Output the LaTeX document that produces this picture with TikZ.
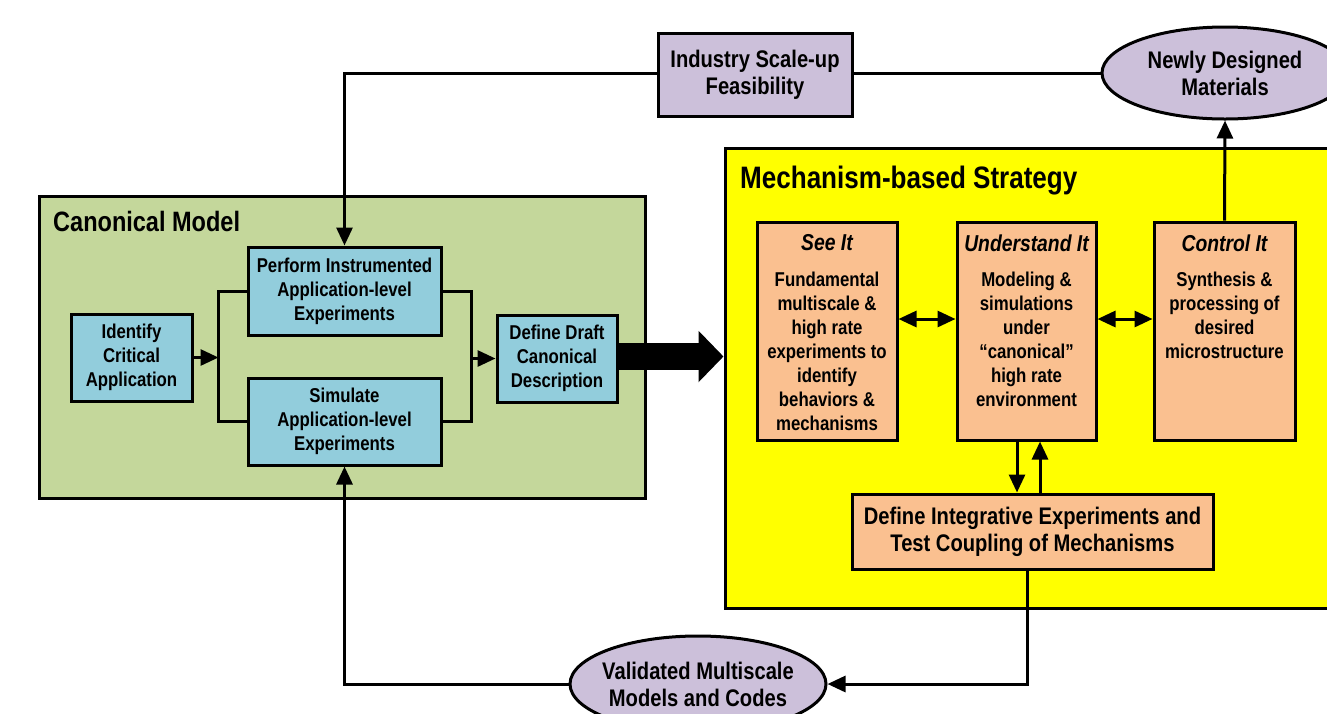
\documentclass[tikz,border=0pt]{standalone}
\usepackage{fontspec}
\setmainfont[FakeStretch=0.84]{Liberation Sans}
\usepackage{tikz}
\usetikzlibrary{shapes.geometric, arrows.meta, positioning}
\definecolor{canonGreen}{HTML}{C4D79B}
\definecolor{stepBlue}{HTML}{92CDDC}
\definecolor{mechYellow}{HTML}{FFFF00}
\definecolor{mechOrange}{HTML}{FAC090}
\definecolor{outLilac}{HTML}{CCC0DA}
\tikzset{
>={Triangle[length=18pt,width=16pt]}, % filled arrow heads like the slide
every node/.style={font=\bfseries\fontsize{20}{24}\selectfont, align=center, inner sep=0pt},
bigtext/.style={font=\bfseries\fontsize{24}{27}\selectfont}, % the larger labels
frame/.style={draw, line width=3pt}, % the two big areas
stepbox/.style={draw, line width=3pt, fill=stepBlue}, % canonical model steps
mechbox/.style={draw, line width=3pt, fill=mechOrange, minimum width=140pt, minimum height=218pt},
lilacbox/.style={draw, line width=3pt, fill=outLilac, bigtext},
outcome/.style={ellipse, draw, line width=3pt, fill=outLilac, bigtext, inner xsep=-12pt},
areatitle/.style={font=\bfseries\fontsize{28}{34}\selectfont, anchor=base west},
mechtitle/.style={font=\bfseries\itshape\fontsize{23}{28}\selectfont, anchor=north},
link/.style={line width=3pt},
}
\begin{document}
\begin{tikzpicture}[x=1pt, y=-1pt]
    \useasboundingbox (0,0) rectangle (1327,713);
    \clip (0,0) rectangle (1327,713);

    % areas
    \node[frame, fill=canonGreen, minimum width=606pt, minimum height=302pt] (canon) at (342,347) {};
    \node[areatitle] (canonT) at (53,231) {Canonical Model};
    \node[frame, fill=mechYellow, minimum width=640pt, minimum height=460pt] (mech) at (1045,378) {};
    \node[areatitle, font=\bfseries\fontsize{31}{36}\selectfont] (mechT) at (740,188) {Mechanism-based Strategy};

    % canonical model
    \node[stepbox, minimum width=121pt, minimum height=87pt] (ident) at (131.5,357.5) {Identify\\Critical\\Application};
    \node[stepbox, minimum width=193pt, minimum height=88pt] (perf) at (344.5,291) {Perform Instrumented\\Application-level\\Experiments};
    \node[stepbox, minimum width=193pt, minimum height=87pt] (sim) at (344.5,421.5) {Simulate\\Application-level\\Experiments};
    \node[stepbox, minimum width=120pt, minimum height=87pt] (draft) at (557,358.5) {Define Draft\\Canonical\\Description};
    \coordinate (brL) at ([xshift=-28pt]perf.west);
    \coordinate (brR) at ([xshift=29pt]perf.east);

    % mechanism-based strategy
    \node[mechbox] (see) at (827,331) {};
    \node[mechbox, minimum width=139pt] (und) at (1026.5,331) {};
    \node[mechbox, minimum width=141pt] (ctrl) at (1224.5,331) {};
    \node[mechtitle] (seeT) at ([yshift=-14pt]see.north) {See It};
    \node[mechtitle] (undT) at ([yshift=-14pt]und.north) {Understand It};
    \node[mechtitle] (ctrlT) at ([yshift=-14pt]ctrl.north) {Control It};
    \node[anchor=north] (seeB) at ([yshift=-51pt]see.north) {Fundamental\\multiscale \&\\high rate\\experiments to\\identify\\behaviors \&\\mechanisms};
    \node[anchor=north] (undB) at ([yshift=-51pt]und.north) {Modeling \&\\simulations\\under\\``canonical''\\high rate\\environment};
    \node[anchor=north] (ctrlB) at ([yshift=-51pt]ctrl.north) {Synthesis \&\\processing of\\desired\\microstructure};
    \node[mechbox, bigtext, minimum width=361pt, minimum height=75pt] (integ) at (1032.5,531.5) {Define Integrative Experiments and\\Test Coupling of Mechanisms};

    % outcomes
    \node[lilacbox, minimum width=194pt, minimum height=83pt] (scale) at (755,74.5) {Industry Scale-up\\Feasibility};
    \node[outcome, minimum width=246pt, minimum height=92pt] (newmat) at (1225,73) {Newly Designed\\Materials};
    \node[outcome, minimum width=256pt, minimum height=96pt] (valid) at (698,684) {Validated Multiscale\\Models and Codes};

    % connectors
    \draw[link] (perf.west) -- (brL) |- (sim.west);
    \draw[link] (perf.east) -- (brR) |- (sim.east);
    \draw[link, ->] (ident.east) -- (ident.east -| brL);
    \draw[link, ->] (brR |- draft.west) -- (draft.west);
    \draw[line width=27pt, -{Triangle[length=25pt,width=50pt]}] ([yshift=2pt]draft.east) -- ([yshift=2pt]draft.east -| mech.west);
    \draw[link, <->] ([yshift=12pt]see.east) -- ([yshift=12pt]und.west);
    \draw[link, <->] ([yshift=12pt]und.east) -- ([yshift=12pt]ctrl.west);
    \draw[link, ->] ([xshift=-9.5pt]und.south) -- ([xshift=-9.5pt]und.south |- integ.north);
    \draw[link, ->] ([xshift=13.5pt]und.south |- integ.north) -- ([xshift=13.5pt]und.south);
    \draw[link, ->] ([xshift=-5.5pt]integ.south) |- (valid.east);
    \draw[link, ->] (valid.west) -| (sim.south);
    \draw[link, ->] ([yshift=1.5pt]scale.west) -| (perf.north);
    \draw[link] (newmat.west -| scale.east) -- (newmat.west);
    \draw[link, ->] (ctrl.north) -- (newmat.south);
\end{tikzpicture}
\end{document}
